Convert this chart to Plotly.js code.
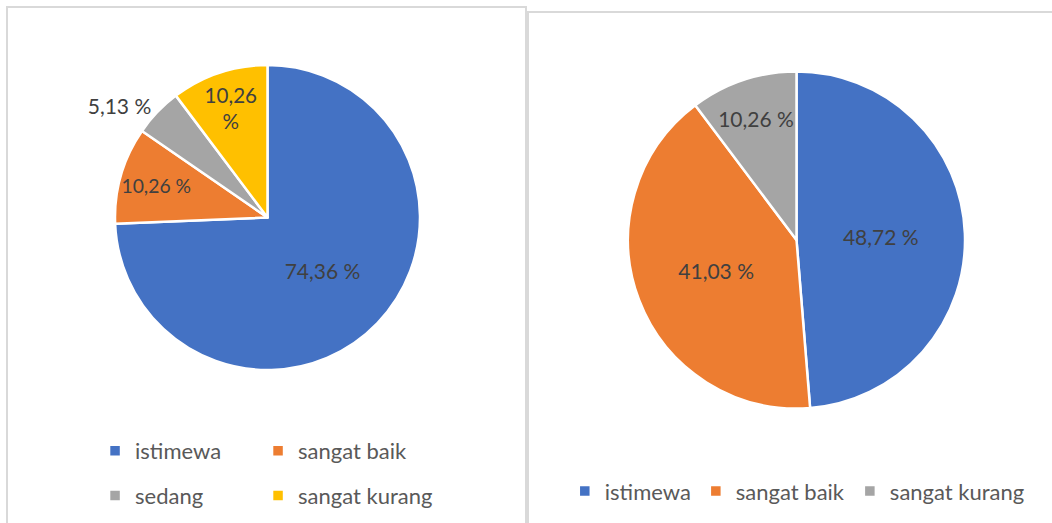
<!DOCTYPE html>
<html>
<head>
<meta charset="utf-8">
<script src="https://cdn.plot.ly/plotly-3.0.1.min.js"></script>
<style>
  html, body { margin:0; padding:0; background:#ffffff; width:1052px; height:523px; overflow:hidden; }
  .frame { position:absolute; border:2px solid #d9d9d9; box-sizing:border-box; }
  .plot { position:absolute; top:0; height:523px; }
</style>
</head>
<body>
<div class="frame" style="left:6px; top:6px; width:521px; height:600px; border-bottom:none;"></div>
<div class="frame" style="left:527px; top:11px; width:600px; height:600px; border-right:none; border-bottom:none;"></div>
<div id="left" class="plot" style="left:0; width:527px;"></div>
<div id="right" class="plot" style="left:527px; width:525px;"></div>
<script>
// ---- data ----
const categoriesLeft = ['istimewa', 'sangat baik', 'sedang', 'sangat kurang'];
const valuesLeft = [74.36, 10.26, 5.13, 10.26];
const categoriesRight = ['istimewa', 'sangat baik', 'sangat kurang'];
const valuesRight = [48.72, 41.03, 10.26];

// ---- styles ----
const palette = ['#4472C4', '#ED7D31', '#A5A5A5', '#FFC000'];
const FONT = 'Lato, "Open Sans", sans-serif';
function fmt(v, brk) {
  return v.toFixed(2).replace('.', ',') + (brk ? '<br>' : ' ') + '%';
}

// left pie
const leftPos = ['inside', 'inside', 'outside', 'inside'];
const leftBreak = [false, false, false, true];
const leftTrace = {
  type: 'pie',
  labels: categoriesLeft,
  values: valuesLeft,
  text: valuesLeft.map((v, i) => fmt(v, leftBreak[i])),
  textinfo: 'text',
  textposition: leftPos,
  insidetextorientation: 'horizontal',
  sort: false,
  direction: 'clockwise',
  rotation: 0,
  marker: { colors: palette.slice(0, categoriesLeft.length), line: { color: '#ffffff', width: 2.5 } },
  textfont: { family: FONT, size: 21, color: '#404040' },
  hoverinfo: 'none',
  domain: { x: [0.0954, 0.9264], y: [0.2925, 0.8757] }
};
const leftLayout = {
  width: 527, height: 523,
  margin: { l: 80, r: 80, t: 0, b: 0 },
  paper_bgcolor: 'rgba(0,0,0,0)',
  plot_bgcolor: 'rgba(0,0,0,0)',
  showlegend: true,
  legend: {
    orientation: 'h',
    x: 0.041, xanchor: 'left',
    y: 0.1777, yanchor: 'top',
    entrywidth: 118, entrywidthmode: 'pixels',
    font: { family: FONT, size: 22, color: '#595959' },
    bgcolor: 'rgba(0,0,0,0)', borderwidth: 0,
    traceorder: 'normal'
  }
};

// right pie
const rightTrace = {
  type: 'pie',
  labels: categoriesRight,
  values: valuesRight,
  text: valuesRight.map(v => fmt(v, false)),
  textinfo: 'text',
  textposition: 'inside',
  insidetextorientation: 'horizontal',
  sort: false,
  direction: 'clockwise',
  rotation: 0,
  marker: { colors: palette.slice(0, categoriesRight.length), line: { color: '#ffffff', width: 2.5 } },
  textfont: { family: FONT, size: 21, color: '#404040' },
  hoverinfo: 'none',
  domain: { x: [0.1924, 0.8343], y: [0.2189, 0.8633] }
};
const rightLayout = {
  width: 525, height: 523,
  margin: { l: 0, r: 0, t: 0, b: 0 },
  paper_bgcolor: 'rgba(0,0,0,0)',
  plot_bgcolor: 'rgba(0,0,0,0)',
  showlegend: true,
  legend: {
    orientation: 'h',
    x: 0.072, xanchor: 'left',
    y: 0.0606, yanchor: 'middle',
    font: { family: FONT, size: 22, color: '#595959' },
    bgcolor: 'rgba(0,0,0,0)', borderwidth: 0,
    traceorder: 'normal'
  }
};

const config = { staticPlot: true, displayModeBar: false };
Plotly.newPlot('left', [leftTrace], leftLayout, config).then(function (gd) {
  // let the wrapped legend show full text and widen its row gap like the original
  gd.querySelectorAll('.legend .scrollbox').forEach(function (s) { s.removeAttribute('clip-path'); });
  var items = gd.querySelectorAll('.legend g.traces');
  var firstY = null;
  items.forEach(function (el) {
    var m = /translate\(\s*([-\d.]+)[ ,]+([-\d.]+)\s*\)/.exec(el.getAttribute('transform') || '');
    if (!m) return;
    var x = parseFloat(m[1]), y = parseFloat(m[2]);
    if (firstY === null) firstY = y;
    if (y > firstY + 1) el.setAttribute('transform', 'translate(' + x + ',' + (y + 13) + ')');
  });
});
Plotly.newPlot('right', [rightTrace], rightLayout, config);
</script>
</body>
</html>
